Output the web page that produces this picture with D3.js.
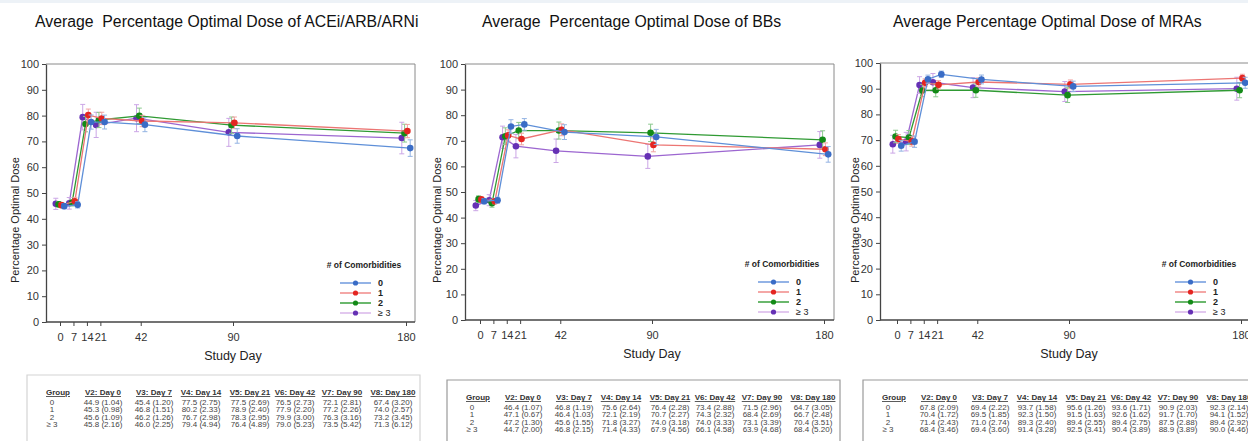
<!DOCTYPE html>
<html>
<head>
<meta charset="utf-8">
<script src="https://cdn.jsdelivr.net/npm/d3@7"></script>
<style>
  body { margin: 0; background: #fff; }
  #chart { width: 1248px; height: 441px; overflow: hidden; }
  text { font-family: "Liberation Sans", Arial, sans-serif; }
</style>
</head>
<body>
<div id="chart"></div>
<script>
// study days and groups
const days = [0, 7, 14, 21, 42, 90, 180]
const groups = ["0", "1", "2", "\u2265 3"]
const visitLabels = ["V2: Day 0", "V3: Day 7", "V4: Day 14", "V5: Day 21", "V6: Day 42", "V7: Day 90", "V8: Day 180"]
const yTicks = [0, 10, 20, 30, 40, 50, 60, 70, 80, 90, 100]

// ACEi/ARB/ARNi means and SE, one row per group
const aceiMean = [
    [44.9, 45.4, 77.5, 77.5, 76.5, 72.1, 67.4],
    [45.3, 46.8, 80.2, 78.9, 77.9, 77.2, 74.0],
    [45.6, 46.2, 76.7, 78.3, 79.9, 76.3, 73.2],
    [45.8, 46.0, 79.4, 76.4, 79.0, 73.5, 71.3]
]
const aceiSE = [
    [1.04, 1.20, 2.75, 2.69, 2.73, 2.81, 3.20],
    [0.98, 1.51, 2.33, 2.40, 2.20, 2.26, 2.57],
    [1.09, 1.26, 2.98, 2.95, 3.00, 3.16, 3.45],
    [2.16, 2.25, 4.94, 4.89, 5.23, 5.42, 6.12]
]

// BBs
const bbMean = [
    [46.4, 46.8, 75.6, 76.4, 73.4, 71.5, 64.7],
    [47.1, 46.4, 72.1, 70.7, 74.3, 68.4, 66.7],
    [47.2, 45.6, 71.8, 74.0, 74.0, 73.1, 70.4],
    [44.7, 46.8, 71.4, 67.9, 66.1, 63.9, 68.4]
]
const bbSE = [
    [1.07, 1.19, 2.64, 2.28, 2.88, 2.96, 3.05],
    [0.67, 1.03, 2.19, 2.27, 2.32, 2.69, 2.48],
    [1.30, 1.55, 3.27, 3.18, 3.33, 3.39, 3.51],
    [2.00, 2.15, 4.33, 4.56, 4.58, 4.68, 5.20]
]

// MRAs
const mraMean = [
    [67.8, 69.4, 93.7, 95.6, 93.6, 90.9, 92.3],
    [70.4, 69.5, 92.3, 91.5, 92.6, 91.7, 94.1],
    [71.4, 71.0, 89.3, 89.4, 89.4, 87.5, 89.4],
    [68.4, 69.4, 91.4, 92.5, 90.4, 88.9, 90.0]
]
const mraSE = [
    [2.09, 2.22, 1.58, 1.26, 1.71, 2.03, 2.14],
    [1.72, 1.85, 1.50, 1.63, 1.62, 1.70, 1.52],
    [2.43, 2.74, 2.40, 2.55, 2.75, 2.88, 2.92],
    [3.46, 3.60, 3.28, 3.41, 3.89, 3.89, 4.46]
]

document.addEventListener("DOMContentLoaded", (e) => {

    let width = 1248,
        height = 441;

    let dotColors = ["#3a6cc6", "#e42521", "#138a17", "#6530b4"]
    let lineColors = ["#5e8fd8", "#ec7573", "#2f9a33", "#9c66d0"]
    let barColors = ["#93b3e3", "#f1a3a3", "#8cc98e", "#cba6e6"]
    let legendLines = ["#6f9ade", "#f08a88", "#3aa03c", "#d8b6ea"]
    let dodge = [4.2, 1.4, -1.4, -4.2]

    let svg = d3.select('#chart')
        .append('svg')
        .attr("width", width)
        .attr("height", height)

    svg.append("rect").attr("x", 0).attr("y", 0).attr("width", width).attr("height", 3).attr("fill", "#edf2f7")

    const panels = [
        { title: "Average  Percentage Optimal Dose of ACEi/ARB/ARNi", titleX: 35, mean: aceiMean, se: aceiSE,
          left: 46, right: 415, top: 64, bottom: 322, x0: 60, x1: 406, ylab: 15,
          legX: 340, legY: 265, tableX: 27, tableY: 395, tableBorder: "#d4d4d4" },
        { title: "Average  Percentage Optimal Dose of BBs", titleX: 482, mean: bbMean, se: bbSE,
          left: 465, right: 834, top: 64, bottom: 320, x0: 480, x1: 824, ylab: 437,
          legX: 758, legY: 264, tableX: 447, tableY: 400, tableBorder: "#9a9a9a" },
        { title: "Average Percentage Optimal Dose of MRAs", titleX: 893, mean: mraMean, se: mraSE,
          left: 880, right: 1253, top: 63, bottom: 320, x0: 897, x1: 1241, ylab: 855,
          legX: 1175, legY: 264, tableX: 863, tableY: 400, tableBorder: "#9a9a9a" }
    ]

    panels.forEach(p => drawPanel(p))

    function drawPanel(p) {
        let x = d3.scaleLinear().domain([0, 180]).range([p.x0, p.x1])
        let y = d3.scaleLinear().domain([0, 100]).range([p.bottom, p.top])

        svg.append("text")
            .attr("x", p.titleX)
            .attr("y", 27)
            .attr("font-size", 15.8)
            .attr("fill", "#111")
            .style("white-space", "pre")
            .text(p.title)

        // frame top + right
        svg.append("path")
            .attr("d", `M${p.left},${p.top}H${p.right}V${p.bottom}`)
            .attr("fill", "none")
            .attr("stroke", "#8a8a8a")
            .attr("stroke-width", 1)

        let yAxis = svg.append("g")
            .attr("transform", `translate(${p.left},0)`)
            .call(d3.axisLeft(y).tickValues(yTicks).tickSize(4).tickSizeOuter(0))
        yAxis.select(".domain").attr("stroke", "#444").attr("stroke-width", 1.3)
        yAxis.selectAll(".tick line").attr("stroke", "#444")
        yAxis.selectAll("text").attr("font-size", 11).attr("fill", "#333").attr("font-family", "Liberation Sans, Arial")

        let xAxis = svg.append("g")
            .attr("transform", `translate(0,${p.bottom})`)
            .call(d3.axisBottom(x).tickValues(days).tickSize(4).tickSizeOuter(0).tickPadding(7))
        xAxis.select(".domain").attr("d", `M${p.left},0H${p.right}`).attr("stroke", "#444").attr("stroke-width", 1.3)
        xAxis.selectAll(".tick line").attr("stroke", "#444")
        xAxis.selectAll("text").attr("font-size", 11).attr("fill", "#333").attr("font-family", "Liberation Sans, Arial")

        svg.append("text")
            .attr("x", x(90))
            .attr("y", p.bottom + 38)
            .attr("text-anchor", "middle")
            .attr("font-size", 12.5)
            .attr("fill", "#222")
            .text("Study Day")

        svg.append("text")
            .attr("transform", `translate(${p.ylab},220) rotate(-90)`)
            .attr("text-anchor", "middle")
            .attr("dy", "0.35em")
            .attr("font-size", 11)
            .attr("fill", "#222")
            .text("Percentage Optimal Dose")

        // draw back to front: >=3, 2, 1, 0
        for (let g = 3; g >= 0; g--) {
            let pts = days.map((d, i) => ({ d: d, m: p.mean[g][i], s: p.se[g][i] }))
            let px = d => x(d.d) + dodge[g]

            svg.append("path")
                .datum(pts)
                .attr("fill", "none")
                .attr("stroke", lineColors[g])
                .attr("stroke-width", 1.3)
                .attr("d", d3.line().x(px).y(d => y(d.m)))

            let bars = svg.append("g").selectAll("g")
                .data(pts)
                .enter().append("g")
                .attr("stroke", barColors[g])
                .attr("stroke-width", 1)
            bars.append("line")
                .attr("x1", px).attr("x2", px)
                .attr("y1", d => y(d.m + d.s)).attr("y2", d => y(d.m - d.s))
            bars.append("line")
                .attr("x1", d => px(d) - 2.5).attr("x2", d => px(d) + 2.5)
                .attr("y1", d => y(d.m + d.s)).attr("y2", d => y(d.m + d.s))
            bars.append("line")
                .attr("x1", d => px(d) - 2.5).attr("x2", d => px(d) + 2.5)
                .attr("y1", d => y(d.m - d.s)).attr("y2", d => y(d.m - d.s))

            svg.append("g").selectAll("circle")
                .data(pts)
                .enter().append("circle")
                .attr("cx", px)
                .attr("cy", d => y(d.m))
                .attr("r", 3.3)
                .attr("fill", dotColors[g])
        }

        // legend
        svg.append("text")
            .attr("x", p.legX + 24)
            .attr("y", p.legY + 3)
            .attr("text-anchor", "middle")
            .attr("font-size", 8.5)
            .attr("font-weight", "bold")
            .attr("fill", "#222")
            .text("# of Comorbidities")
        groups.forEach((gname, g) => {
            let ly = p.legY + 18 + g * 10
            svg.append("line")
                .attr("x1", p.legX).attr("x2", p.legX + 31)
                .attr("y1", ly).attr("y2", ly)
                .attr("stroke", legendLines[g]).attr("stroke-width", 1.5)
            svg.append("circle")
                .attr("cx", p.legX + 15.5).attr("cy", ly).attr("r", 2.6)
                .attr("fill", dotColors[g])
            svg.append("text")
                .attr("x", p.legX + 38).attr("y", ly)
                .attr("dy", "0.35em")
                .attr("font-size", 9)
                .attr("font-weight", g < 3 ? "bold" : "normal")
                .attr("fill", "#222")
                .text(gname)
        })

        // summary table
        let colX = [31, 76, 127, 174, 223, 268, 315, 366].map(c => c + p.tableX)
        svg.append("path")
            .attr("d", `M${p.tableX},${height + 2}V${p.tableY - 20}H${p.tableX + 393}V${height + 2}`)
            .attr("fill", "none")
            .attr("stroke", p.tableBorder)
            .attr("stroke-width", 1.2)

        let header = ["Group"].concat(visitLabels)
        svg.append("g").selectAll("text")
            .data(header)
            .enter().append("text")
            .attr("x", (d, i) => colX[i])
            .attr("y", p.tableY)
            .attr("text-anchor", "middle")
            .attr("font-size", 8)
            .attr("font-weight", "bold")
            .attr("text-decoration", "underline")
            .attr("fill", "#333")
            .text(d => d)

        groups.forEach((gname, g) => {
            let row = [gname].concat(p.mean[g].map((m, i) => m.toFixed(1) + " (" + p.se[g][i].toFixed(2) + ")"))
            svg.append("g").selectAll("text")
                .data(row)
                .enter().append("text")
                .attr("x", (d, i) => i == 0 ? colX[0] - 6 : colX[i])
                .attr("y", p.tableY + 9.5 + g * 7.5)
                .attr("text-anchor", "middle")
                .attr("font-size", 8)
                .attr("fill", "#444")
                .text(d => d)
        })
    }
})
</script>
</body>
</html>
